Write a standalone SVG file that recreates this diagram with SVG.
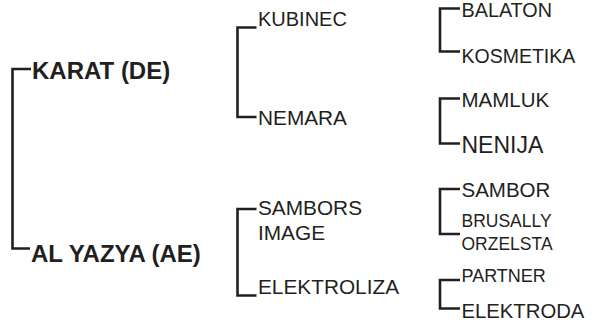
<svg xmlns="http://www.w3.org/2000/svg" width="597" height="334" viewBox="0 0 597 334">
<style>
  .br { fill: none; stroke: #231f20; stroke-width: 2.6; stroke-linejoin: miter; }
  text { font-family: "Liberation Sans", Arial, sans-serif; fill: #231f20; }
  .l1 { font-size: 24px; font-weight: bold; }
  .l2 { font-size: 20.8px; }
</style>
<rect width="597" height="334" fill="#ffffff"/>
<g id="connectors">
  <path class="br" d="M31 69 H12.5 V248.5 H30"/>
  <path class="br" d="M256.5 27.5 H237.5 V117 H256.5"/>
  <path class="br" d="M256.5 209 H237.5 V295.5 H256.5"/>
  <path class="br" d="M460 8.5 H440 V51.5 H460"/>
  <path class="br" d="M460 98.5 H440 V143.5 H460"/>
  <path class="br" d="M460 189 H440 V234 H460"/>
  <path class="br" d="M460 280 H440 V308.5 H460"/>
</g>
<g id="karat"><text class="l1" x="32" y="78.5">KARAT (DE)</text></g>
<g id="alyazya"><text class="l1" x="31" y="261.5">AL YAZYA (AE)</text></g>
<g id="kubinec"><text class="l2" x="258" y="26" style="font-size:20px">KUBINEC</text></g>
<g id="nemara"><text class="l2" x="258" y="125">NEMARA</text></g>
<g id="sambors-image"><text class="l2" x="258" y="215">SAMBORS</text><text class="l2" x="258" y="240">IMAGE</text></g>
<g id="elektroliza"><text class="l2" x="258" y="294">ELEKTROLIZA</text></g>
<g id="balaton"><text x="461.5" y="17" style="font-size:19.8px">BALATON</text></g>
<g id="kosmetika"><text x="461.5" y="63" style="font-size:19.5px">KOSMETIKA</text></g>
<g id="mamluk"><text x="461.5" y="107" style="font-size:20.5px">MAMLUK</text></g>
<g id="nenija"><text x="461.5" y="153" style="font-size:23px">NENIJA</text></g>
<g id="sambor"><text x="461.5" y="197" style="font-size:20.5px">SAMBOR</text></g>
<g id="brusally-orzelsta"><text x="461.5" y="227" style="font-size:17.5px">BRUSALLY</text><text x="461.5" y="250" style="font-size:17.5px">ORZELSTA</text></g>
<g id="partner"><text x="461.5" y="282" style="font-size:18px">PARTNER</text></g>
<g id="elektroda"><text x="461.5" y="318" style="font-size:20.3px">ELEKTRODA</text></g>
</svg>
